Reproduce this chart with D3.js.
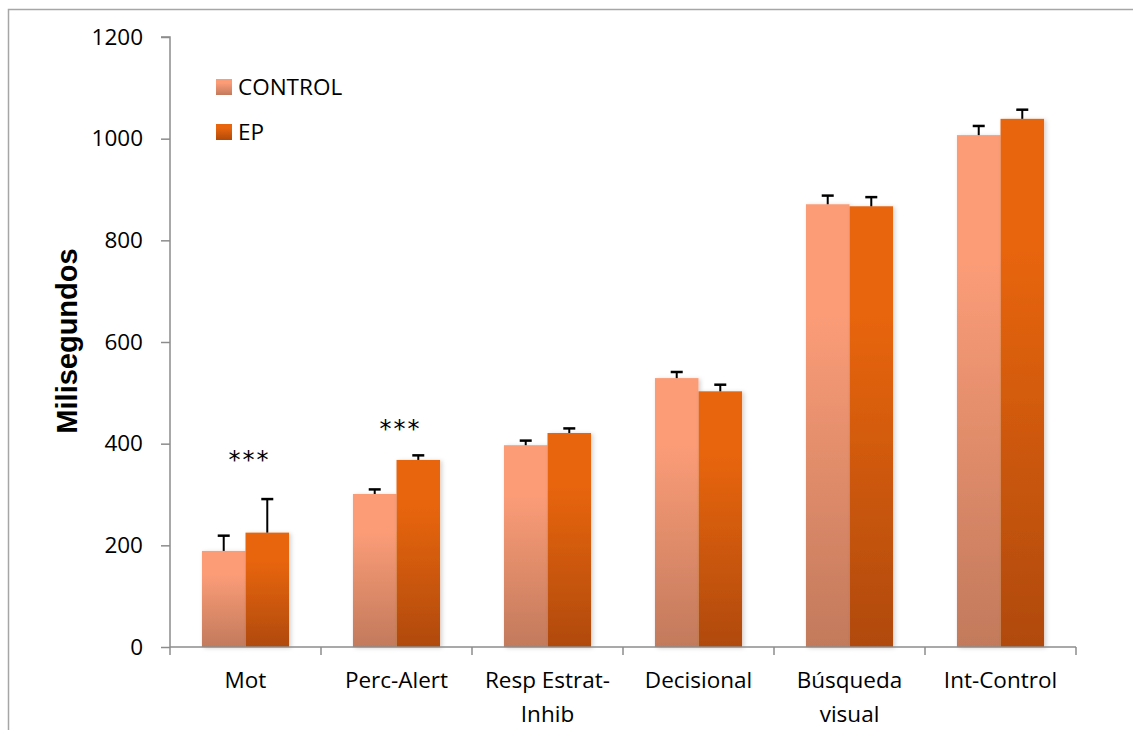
<!DOCTYPE html>
<html><head><meta charset="utf-8">
<script src="https://cdn.jsdelivr.net/npm/d3@7"></script>
<style>body{margin:0;background:#fff}svg{display:block}</style>
</head><body>
<svg id="c" width="1133" height="730"></svg>
<script>
const categories = [["Mot"],["Perc-Alert"],["Resp Estrat-","Inhib"],["Decisional"],["Búsqueda","visual"],["Int-Control"]];
const seriesNames = ["CONTROL","EP"];
const controlValues = [189, 301, 397, 529, 871, 1007];
const controlErr = [30, 9, 9, 12, 17, 18];
const epValues = [225, 368, 421, 503, 867, 1039];
const epErr = [66, 9, 9, 13, 18, 18];
const significance = ["***","***","","","",""];
const significanceLevel = [372, 432, null, null, null, null];
const yTicks = [0,200,400,600,800,1000,1200];

const svg = d3.select("#c");
const defs = svg.append("defs");
function grad(id, c0, c1){
  const g = defs.append("linearGradient").attr("id",id).attr("x1",0).attr("y1",0).attr("x2",0).attr("y2",1);
  g.append("stop").attr("offset","0").attr("stop-color",c0);
  g.append("stop").attr("offset","0.25").attr("stop-color",c0);
  g.append("stop").attr("offset","1").attr("stop-color",c1);
}
grad("gC","#FB9C77","#C27A5C");
grad("gE","#E8650E","#B04A09");
const f = defs.append("filter").attr("id","sh").attr("x","-20%").attr("y","-5%").attr("width","150%").attr("height","115%");
f.append("feDropShadow").attr("dx",2).attr("dy",1).attr("stdDeviation",2).attr("flood-color","#000").attr("flood-opacity",0.18);

const FONT = "'Open Sans', sans-serif";
const FS = 22.5;

// frame
svg.append("rect").attr("x",8.5).attr("y",9.5).attr("width",1300).attr("height",1000)
  .attr("fill","none").attr("stroke","#a6a6a6").attr("stroke-width",1.5);

const pLeft=170, pRight=1076, pTop=37, pBottom=647;
const x = d3.scaleBand().domain(d3.range(categories.length)).range([pLeft,pRight]).paddingInner(0.423).paddingOuter(0.2115);
const y = d3.scaleLinear().domain([0,1200]).range([pBottom,pTop]);
const bw = x.bandwidth()/2;

const g = svg.append("g");
const data = categories.map((c,i)=>({i, vals:[controlValues[i],epValues[i]], errs:[controlErr[i],epErr[i]]}));

data.forEach(d=>{
  d.vals.forEach((v,k)=>{
    const x0 = x(d.i)+k*bw;
    g.append("rect").attr("x",x0).attr("y",y(v)).attr("width",bw).attr("height",y(0)-y(v))
      .attr("fill",k===0?"url(#gC)":"url(#gE)").attr("filter","url(#sh)");
  });
});
data.forEach(d=>{
  d.vals.forEach((v,k)=>{
    const cx = x(d.i)+k*bw+bw/2;
    const e = d.errs[k];
    g.append("line").attr("x1",cx).attr("x2",cx).attr("y1",y(v)).attr("y2",y(v+e)).attr("stroke","#000").attr("stroke-width",2);
    g.append("line").attr("x1",cx-6).attr("x2",cx+6).attr("y1",y(v+e)).attr("y2",y(v+e)).attr("stroke","#000").attr("stroke-width",2.5);
  });
});

// axes
const ya = svg.append("g").attr("transform",`translate(${pLeft},0)`)
  .call(d3.axisLeft(y).tickValues(yTicks).tickSize(9).tickPadding(18).tickFormat(d3.format("d")));
ya.select(".domain").attr("stroke","#8c8c8c").attr("stroke-width",1.5).attr("d",`M-9,${pTop}H0V${pBottom}`);
ya.selectAll(".tick line").attr("stroke","#8c8c8c").attr("stroke-width",1.5);
ya.selectAll("text").attr("font-family",FONT).attr("font-size",FS).attr("fill","#000");

const xa = svg.append("g").attr("transform",`translate(0,${pBottom})`);
xa.append("line").attr("x1",pLeft).attr("x2",pRight).attr("y1",0).attr("y2",0).attr("stroke","#8c8c8c").attr("stroke-width",1.5);
const bounds = d3.range(categories.length+1).map(i=> i<categories.length ? x(i)-x.step()*x.paddingInner()/2 : pRight);
bounds[0]=pLeft;
bounds.forEach(b=> xa.append("line").attr("x1",b).attr("x2",b).attr("y1",0).attr("y2",8).attr("stroke","#8c8c8c").attr("stroke-width",1.5));
categories.forEach((c,i)=>{
  const t = xa.append("text").attr("text-anchor","middle").attr("font-family",FONT).attr("font-size",FS).attr("fill","#000");
  c.forEach((line,j)=> t.append("tspan").attr("x",x(i)+x.bandwidth()/2).attr("y",41+j*34).text(line));
});

// significance
significance.forEach((s,i)=>{
  if(!s) return;
  svg.append("text").attr("x",x(i)+x.bandwidth()/2+4).attr("y",y(significanceLevel[i])+10).attr("text-anchor","middle")
    .attr("font-family","'DejaVu Sans', sans-serif").attr("font-size",24).attr("letter-spacing",2).text(s);
});

// y title
svg.append("text").attr("transform",`translate(77,341) rotate(-90)`).attr("text-anchor","middle")
  .attr("font-family","'Liberation Sans', Arial, sans-serif").attr("font-weight","bold").attr("font-size",29).text("Milisegundos");

// legend
const leg = svg.append("g");
seriesNames.forEach((n,k)=>{
  leg.append("rect").attr("x",216).attr("y",79+k*45).attr("width",16).attr("height",16).attr("fill",k===0?"url(#gC)":"url(#gE)");
  leg.append("text").attr("x",238).attr("y",95+k*45).attr("font-family",FONT).attr("font-size",FS).text(n);
});
</script>
</body></html>
